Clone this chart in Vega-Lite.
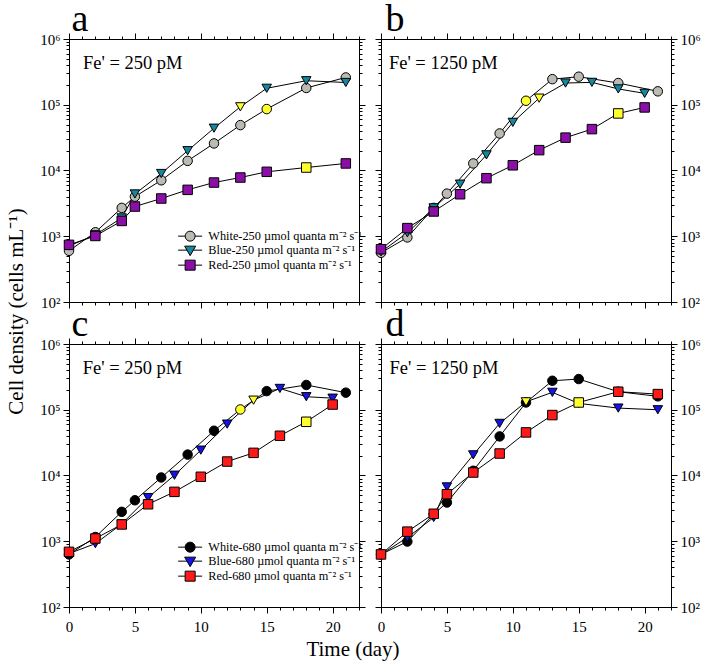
{
"$schema": "https://vega.github.io/schema/vega-lite/v6.json",
"padding": {"left": 5, "right": 0, "top": -1, "bottom": 2},
"config": {"view": {"stroke": "black", "strokeWidth": 1}, "font": "Liberation Serif", "axis": {"grid": false, "domainColor": "black", "tickColor": "black", "labelColor": "black", "labelFont": "Liberation Serif", "labelFontSize": 15, "labelOverlap": false, "labelBound": false, "labelFlush": false, "titleFont": "Liberation Serif", "titleColor": "black"}},
"title": {"text": "Time (day)", "orient": "bottom", "anchor": "middle", "fontSize": 21, "font": "Liberation Serif", "fontWeight": "normal", "color": "black", "offset": 4},
"datasets": {
"growth": [
{"panel":"a","series":"White","day":0,"cells":600},{"panel":"a","series":"White","day":2,"cells":1150},{"panel":"a","series":"White","day":4,"cells":2700},{"panel":"a","series":"White","day":5,"cells":4000},{"panel":"a","series":"White","day":7,"cells":7100},{"panel":"a","series":"White","day":9,"cells":14000},{"panel":"a","series":"White","day":11,"cells":25800},{"panel":"a","series":"White","day":13,"cells":49000},{"panel":"a","series":"White","day":15,"cells":86000,"hl":true},{"panel":"a","series":"White","day":18,"cells":180000},{"panel":"a","series":"White","day":21,"cells":260000},
{"panel":"a","series":"Blue","day":0,"cells":710},{"panel":"a","series":"Blue","day":2,"cells":1050},{"panel":"a","series":"Blue","day":4,"cells":1900},{"panel":"a","series":"Blue","day":5,"cells":4400},{"panel":"a","series":"Blue","day":7,"cells":9000},{"panel":"a","series":"Blue","day":9,"cells":20000},{"panel":"a","series":"Blue","day":11,"cells":44000},{"panel":"a","series":"Blue","day":13,"cells":93000,"hl":true},{"panel":"a","series":"Blue","day":15,"cells":178000},{"panel":"a","series":"Blue","day":18,"cells":232000},{"panel":"a","series":"Blue","day":21,"cells":218000},
{"panel":"a","series":"Red","day":0,"cells":740},{"panel":"a","series":"Red","day":2,"cells":1010},{"panel":"a","series":"Red","day":4,"cells":1710},{"panel":"a","series":"Red","day":5,"cells":2830},{"panel":"a","series":"Red","day":7,"cells":3750},{"panel":"a","series":"Red","day":9,"cells":5080},{"panel":"a","series":"Red","day":11,"cells":6560},{"panel":"a","series":"Red","day":13,"cells":7820},{"panel":"a","series":"Red","day":15,"cells":9550},{"panel":"a","series":"Red","day":18,"cells":11100,"hl":true},{"panel":"a","series":"Red","day":21,"cells":12800},
{"panel":"b","series":"White","day":0,"cells":560},{"panel":"b","series":"White","day":2,"cells":960},{"panel":"b","series":"White","day":4,"cells":2700},{"panel":"b","series":"White","day":5,"cells":4450},{"panel":"b","series":"White","day":7,"cells":12800},{"panel":"b","series":"White","day":9,"cells":36600},{"panel":"b","series":"White","day":11,"cells":115000,"hl":true},{"panel":"b","series":"White","day":13,"cells":245000},{"panel":"b","series":"White","day":15,"cells":267000},{"panel":"b","series":"White","day":18,"cells":214000},{"panel":"b","series":"White","day":21,"cells":160000},
{"panel":"b","series":"Blue","day":0,"cells":580},{"panel":"b","series":"Blue","day":2,"cells":1130},{"panel":"b","series":"Blue","day":4,"cells":2700},{"panel":"b","series":"Blue","day":6,"cells":6200},{"panel":"b","series":"Blue","day":8,"cells":17300},{"panel":"b","series":"Blue","day":10,"cells":54000},{"panel":"b","series":"Blue","day":12,"cells":126000,"hl":true},{"panel":"b","series":"Blue","day":14,"cells":214000},{"panel":"b","series":"Blue","day":16,"cells":219000},{"panel":"b","series":"Blue","day":18,"cells":174000},{"panel":"b","series":"Blue","day":20,"cells":149000},
{"panel":"b","series":"Red","day":0,"cells":635},{"panel":"b","series":"Red","day":2,"cells":1330},{"panel":"b","series":"Red","day":4,"cells":2380},{"panel":"b","series":"Red","day":6,"cells":4350},{"panel":"b","series":"Red","day":8,"cells":7640},{"panel":"b","series":"Red","day":10,"cells":12000},{"panel":"b","series":"Red","day":12,"cells":20400},{"panel":"b","series":"Red","day":14,"cells":31600},{"panel":"b","series":"Red","day":16,"cells":42600},{"panel":"b","series":"Red","day":18,"cells":73800,"hl":true},{"panel":"b","series":"Red","day":20,"cells":91000},
{"panel":"c","series":"White","day":0,"cells":630},{"panel":"c","series":"White","day":2,"cells":1160},{"panel":"c","series":"White","day":4,"cells":2800},{"panel":"c","series":"White","day":5,"cells":4200},{"panel":"c","series":"White","day":7,"cells":9330},{"panel":"c","series":"White","day":9,"cells":20800},{"panel":"c","series":"White","day":11,"cells":47900},{"panel":"c","series":"White","day":13,"cells":101000,"hl":true},{"panel":"c","series":"White","day":15,"cells":192000},{"panel":"c","series":"White","day":18,"cells":238000},{"panel":"c","series":"White","day":21,"cells":182000},
{"panel":"c","series":"Blue","day":0,"cells":650},{"panel":"c","series":"Blue","day":2,"cells":920},{"panel":"c","series":"Blue","day":4,"cells":1830},{"panel":"c","series":"Blue","day":6,"cells":4620},{"panel":"c","series":"Blue","day":8,"cells":10100},{"panel":"c","series":"Blue","day":10,"cells":24300},{"panel":"c","series":"Blue","day":12,"cells":60500},{"panel":"c","series":"Blue","day":14,"cells":140000,"hl":true},{"panel":"c","series":"Blue","day":16,"cells":211000},{"panel":"c","series":"Blue","day":18,"cells":158000},{"panel":"c","series":"Blue","day":20,"cells":150000},
{"panel":"c","series":"Red","day":0,"cells":690},{"panel":"c","series":"Red","day":2,"cells":1100},{"panel":"c","series":"Red","day":4,"cells":1800},{"panel":"c","series":"Red","day":6,"cells":3650},{"panel":"c","series":"Red","day":8,"cells":5640},{"panel":"c","series":"Red","day":10,"cells":9560},{"panel":"c","series":"Red","day":12,"cells":16300},{"panel":"c","series":"Red","day":14,"cells":22100},{"panel":"c","series":"Red","day":16,"cells":40200},{"panel":"c","series":"Red","day":18,"cells":65600,"hl":true},{"panel":"c","series":"Red","day":20,"cells":120000},
{"panel":"d","series":"White","day":0,"cells":630},{"panel":"d","series":"White","day":2,"cells":990},{"panel":"d","series":"White","day":4,"cells":2570},{"panel":"d","series":"White","day":5,"cells":3880},{"panel":"d","series":"White","day":7,"cells":11800},{"panel":"d","series":"White","day":9,"cells":39300},{"panel":"d","series":"White","day":11,"cells":129000},{"panel":"d","series":"White","day":13,"cells":276000},{"panel":"d","series":"White","day":15,"cells":293000},{"panel":"d","series":"White","day":18,"cells":188000},{"panel":"d","series":"White","day":21,"cells":160000},
{"panel":"d","series":"Blue","day":0,"cells":630},{"panel":"d","series":"Blue","day":2,"cells":1140},{"panel":"d","series":"Blue","day":4,"cells":2300},{"panel":"d","series":"Blue","day":5,"cells":6700},{"panel":"d","series":"Blue","day":7,"cells":20600},{"panel":"d","series":"Blue","day":9,"cells":62000},{"panel":"d","series":"Blue","day":11,"cells":132000,"hl":true},{"panel":"d","series":"Blue","day":13,"cells":184000},{"panel":"d","series":"Blue","day":15,"cells":125000},{"panel":"d","series":"Blue","day":18,"cells":106000},{"panel":"d","series":"Blue","day":21,"cells":100000},
{"panel":"d","series":"Red","day":0,"cells":630},{"panel":"d","series":"Red","day":2,"cells":1400},{"panel":"d","series":"Red","day":4,"cells":2620},{"panel":"d","series":"Red","day":5,"cells":5200},{"panel":"d","series":"Red","day":7,"cells":11100},{"panel":"d","series":"Red","day":9,"cells":21600},{"panel":"d","series":"Red","day":11,"cells":45200},{"panel":"d","series":"Red","day":13,"cells":83000},{"panel":"d","series":"Red","day":15,"cells":129000,"hl":true},{"panel":"d","series":"Red","day":18,"cells":188000},{"panel":"d","series":"Red","day":21,"cells":173000}
],
"notes": [{"panel":"a","label":"Fe' = 250 pM"},{"panel":"b","label":"Fe' = 1250 pM"},{"panel":"c","label":"Fe' = 250 pM"},{"panel":"d","label":"Fe' = 1250 pM"}]
},
"columns": 2,
"spacing": {"row": 42, "column": 22},
"bounds": "flush",
"resolve": {"scale": {"x": "independent", "y": "independent", "fill": "independent", "shape": "independent"}, "legend": {"fill": "independent", "shape": "independent"}},
"concat": [
{"width": 290, "height": 263,
 "layer": [
  {"data": {"name": "growth"}, "transform": [{"filter": "datum.panel === 'a'"}],
   "mark": {"type": "line", "color": "black", "strokeWidth": 1},
   "encoding": {
    "x": {"field": "day", "type": "quantitative", "scale": {"domain": [0, 22], "nice": false, "zero": false}, "axis": {"orient": "bottom", "values": [0,1,2,3,4,5,6,7,8,9,10,11,12,13,14,15,16,17,18,19,20,21,22], "labels": false, "title": null, "tickSize": {"condition": {"test": "datum.value % 5 === 0", "value": 6}, "value": 3}}},
    "y": {"field": "cells", "type": "quantitative", "scale": {"type": "log", "domain": [100, 1000000], "nice": false}, "axis": {"orient": "left", "values": [100,200,300,400,500,600,700,800,900,1000,2000,3000,4000,5000,6000,7000,8000,9000,10000,20000,30000,40000,50000,60000,70000,80000,90000,100000,200000,300000,400000,500000,600000,700000,800000,900000,1000000], "labelExpr": "abs(log(datum.value)/LN10 - round(log(datum.value)/LN10)) < 0.001 ? '10' + ['⁰','¹','²','³','⁴','⁵','⁶'][round(log(datum.value)/LN10)] : ''", "tickSize": {"condition": {"test": "abs(log(datum.value)/LN10 - round(log(datum.value)/LN10)) < 0.001", "value": 6}, "value": 3}, "labelPadding": 3, "title": "Cell density (cells mL⁻¹)", "titleFontSize": 21, "titleFontWeight": "normal", "titleY": 272, "titlePadding": 13}},
    "detail": {"field": "series"}
   }},
  {"data": {"name": "growth"}, "transform": [{"filter": "datum.panel === 'a'"}],
   "mark": {"type": "point", "filled": true, "stroke": "black", "strokeWidth": 1, "size": 90, "opacity": 1},
   "encoding": {
    "x": {"field": "day", "type": "quantitative", "axis": {"orient": "top", "values": [0,1,2,3,4,5,6,7,8,9,10,11,12,13,14,15,16,17,18,19,20,21,22], "labels": false, "title": "a", "titleFontSize": 38, "titleFontWeight": "normal", "titleAlign": "left", "titleAnchor": "start", "titleBaseline": "alphabetic", "titleX": 2, "titleY": -9, "tickSize": {"condition": {"test": "datum.value % 5 === 0", "value": 6}, "value": 3}}},
    "y": {"field": "cells", "type": "quantitative", "axis": {"orient": "right", "values": [100,200,300,400,500,600,700,800,900,1000,2000,3000,4000,5000,6000,7000,8000,9000,10000,20000,30000,40000,50000,60000,70000,80000,90000,100000,200000,300000,400000,500000,600000,700000,800000,900000,1000000], "labels": false, "title": null, "tickSize": {"condition": {"test": "abs(log(datum.value)/LN10 - round(log(datum.value)/LN10)) < 0.001", "value": 6}, "value": 3}}},
    "shape": {"field": "series", "type": "nominal", "scale": {"domain": ["White", "Blue", "Red"], "range": ["circle", "triangle-down", "square"]}, "legend": null},
    "fill": {"condition": {"test": "datum.hl === true", "value": "#FFFF2E"}, "field": "series", "type": "nominal", "scale": {"domain": ["White", "Blue", "Red"], "range": ["#BBBBB3", "#17879E", "#8B0FA6"]}, "legend": null}
   }},
  {"data": {"name": "growth"}, "transform": [{"filter": "datum.panel === 'none'"}],
   "mark": {"type": "point", "filled": true, "stroke": "black", "strokeWidth": 1, "opacity": 1},
   "encoding": {
    "stroke": {"value": "black"},
    "strokeWidth": {"value": 1},
    "shape": {"field": "series", "type": "nominal", "scale": {"domain": ["White", "Blue", "Red"], "range": ["M-2.4,0H-1M1,0H2.4M1,0A1,1,0,1,1,-1,0A1,1,0,1,1,1,0Z", "M-2.4,0H-0.6M0.6,0H2.4M-1.1,-0.8H1.1L0,1.1Z", "M-2.4,0H-1M1,0H2.4M-1,-1H1V1H-1Z"]},
      "legend": {"orient": "none", "legendX": 115, "legendY": 191, "title": null, "labelFont": "Liberation Serif", "labelFontSize": 12.3, "labelColor": "black", "labelExpr": "datum.label + '-250 µmol quanta m⁻² s⁻¹'", "symbolSize": 100, "symbolStrokeWidth": 1, "symbolOpacity": 1, "rowPadding": 0, "labelOffset": 12, "encode": {"symbols": {"update": {"stroke": {"value": "black"}, "strokeWidth": {"value": 1}}}}}},
    "fill": {"field": "series", "type": "nominal", "scale": {"domain": ["White", "Blue", "Red"], "range": ["#BBBBB3", "#17879E", "#8B0FA6"]},
      "legend": {"orient": "none", "legendX": 115, "legendY": 191, "title": null, "labelFont": "Liberation Serif", "labelFontSize": 12.3, "labelColor": "black", "labelExpr": "datum.label + '-250 µmol quanta m⁻² s⁻¹'", "symbolSize": 100, "symbolStrokeWidth": 1, "symbolOpacity": 1, "rowPadding": 0, "labelOffset": 12, "encode": {"symbols": {"update": {"stroke": {"value": "black"}, "strokeWidth": {"value": 1}}}}}}
   }},
  {"data": {"name": "notes"}, "transform": [{"filter": "datum.panel === 'a'"}],
   "mark": {"type": "text", "align": "left", "baseline": "alphabetic", "fontSize": 18.5, "font": "Liberation Serif", "color": "black"},
   "encoding": {"x": {"datum": 1.06, "type": "quantitative", "axis": null}, "y": {"datum": 350000, "type": "quantitative", "axis": null}, "text": {"field": "label"}}}
 ],
 "resolve": {"axis": {"x": "independent", "y": "independent"}, "scale": {"shape": "independent", "fill": "independent"}}
},
{"width": 290, "height": 263,
 "layer": [
  {"data": {"name": "growth"}, "transform": [{"filter": "datum.panel === 'b'"}],
   "mark": {"type": "line", "color": "black", "strokeWidth": 1},
   "encoding": {
    "x": {"field": "day", "type": "quantitative", "scale": {"domain": [0, 22], "nice": false, "zero": false}, "axis": {"orient": "bottom", "values": [0,1,2,3,4,5,6,7,8,9,10,11,12,13,14,15,16,17,18,19,20,21,22], "labels": false, "title": null, "tickSize": {"condition": {"test": "datum.value % 5 === 0", "value": 6}, "value": 3}}},
    "y": {"field": "cells", "type": "quantitative", "scale": {"type": "log", "domain": [100, 1000000], "nice": false}, "axis": {"orient": "left", "values": [100,200,300,400,500,600,700,800,900,1000,2000,3000,4000,5000,6000,7000,8000,9000,10000,20000,30000,40000,50000,60000,70000,80000,90000,100000,200000,300000,400000,500000,600000,700000,800000,900000,1000000], "labels": false, "title": null, "tickSize": {"condition": {"test": "abs(log(datum.value)/LN10 - round(log(datum.value)/LN10)) < 0.001", "value": 6}, "value": 3}}},
    "detail": {"field": "series"}
   }},
  {"data": {"name": "growth"}, "transform": [{"filter": "datum.panel === 'b'"}],
   "mark": {"type": "point", "filled": true, "stroke": "black", "strokeWidth": 1, "size": 90, "opacity": 1},
   "encoding": {
    "x": {"field": "day", "type": "quantitative", "axis": {"orient": "top", "values": [0,1,2,3,4,5,6,7,8,9,10,11,12,13,14,15,16,17,18,19,20,21,22], "labels": false, "title": "b", "titleFontSize": 38, "titleFontWeight": "normal", "titleAlign": "left", "titleAnchor": "start", "titleBaseline": "alphabetic", "titleX": 4, "titleY": -9, "tickSize": {"condition": {"test": "datum.value % 5 === 0", "value": 6}, "value": 3}}},
    "y": {"field": "cells", "type": "quantitative", "axis": {"orient": "right", "values": [100,200,300,400,500,600,700,800,900,1000,2000,3000,4000,5000,6000,7000,8000,9000,10000,20000,30000,40000,50000,60000,70000,80000,90000,100000,200000,300000,400000,500000,600000,700000,800000,900000,1000000], "labelExpr": "abs(log(datum.value)/LN10 - round(log(datum.value)/LN10)) < 0.001 ? '10' + ['⁰','¹','²','³','⁴','⁵','⁶'][round(log(datum.value)/LN10)] : ''", "labelPadding": 3, "title": null, "tickSize": {"condition": {"test": "abs(log(datum.value)/LN10 - round(log(datum.value)/LN10)) < 0.001", "value": 6}, "value": 3}}},
    "shape": {"field": "series", "type": "nominal", "scale": {"domain": ["White", "Blue", "Red"], "range": ["circle", "triangle-down", "square"]}, "legend": null},
    "fill": {"condition": {"test": "datum.hl === true", "value": "#FFFF2E"}, "field": "series", "type": "nominal", "scale": {"domain": ["White", "Blue", "Red"], "range": ["#BBBBB3", "#17879E", "#8B0FA6"]}, "legend": null}
   }},
  {"data": {"name": "notes"}, "transform": [{"filter": "datum.panel === 'b'"}],
   "mark": {"type": "text", "align": "left", "baseline": "alphabetic", "fontSize": 18.5, "font": "Liberation Serif", "color": "black"},
   "encoding": {"x": {"datum": 0.6, "type": "quantitative", "axis": null}, "y": {"datum": 352000, "type": "quantitative", "axis": null}, "text": {"field": "label"}}}
 ],
 "resolve": {"axis": {"x": "independent", "y": "independent"}}
},
{"width": 290, "height": 263,
 "layer": [
  {"data": {"name": "growth"}, "transform": [{"filter": "datum.panel === 'c'"}],
   "mark": {"type": "line", "color": "black", "strokeWidth": 1},
   "encoding": {
    "x": {"field": "day", "type": "quantitative", "scale": {"domain": [0, 22], "nice": false, "zero": false}, "axis": {"orient": "bottom", "values": [0,1,2,3,4,5,6,7,8,9,10,11,12,13,14,15,16,17,18,19,20,21,22], "labelExpr": "datum.value % 5 === 0 ? datum.label : ''", "labelPadding": 6, "title": null, "tickSize": {"condition": {"test": "datum.value % 5 === 0", "value": 6}, "value": 3}}},
    "y": {"field": "cells", "type": "quantitative", "scale": {"type": "log", "domain": [100, 1000000], "nice": false}, "axis": {"orient": "left", "values": [100,200,300,400,500,600,700,800,900,1000,2000,3000,4000,5000,6000,7000,8000,9000,10000,20000,30000,40000,50000,60000,70000,80000,90000,100000,200000,300000,400000,500000,600000,700000,800000,900000,1000000], "labelExpr": "abs(log(datum.value)/LN10 - round(log(datum.value)/LN10)) < 0.001 ? '10' + ['⁰','¹','²','³','⁴','⁵','⁶'][round(log(datum.value)/LN10)] : ''", "tickSize": {"condition": {"test": "abs(log(datum.value)/LN10 - round(log(datum.value)/LN10)) < 0.001", "value": 6}, "value": 3}, "labelPadding": 3, "title": null}},
    "detail": {"field": "series"}
   }},
  {"data": {"name": "growth"}, "transform": [{"filter": "datum.panel === 'c'"}],
   "mark": {"type": "point", "filled": true, "stroke": "black", "strokeWidth": 1, "size": 90, "opacity": 1},
   "encoding": {
    "x": {"field": "day", "type": "quantitative", "axis": {"orient": "top", "values": [0,1,2,3,4,5,6,7,8,9,10,11,12,13,14,15,16,17,18,19,20,21,22], "labels": false, "title": "c", "titleFontSize": 38, "titleFontWeight": "normal", "titleAlign": "left", "titleAnchor": "start", "titleBaseline": "alphabetic", "titleX": 2, "titleY": -9, "tickSize": {"condition": {"test": "datum.value % 5 === 0", "value": 6}, "value": 3}}},
    "y": {"field": "cells", "type": "quantitative", "axis": {"orient": "right", "values": [100,200,300,400,500,600,700,800,900,1000,2000,3000,4000,5000,6000,7000,8000,9000,10000,20000,30000,40000,50000,60000,70000,80000,90000,100000,200000,300000,400000,500000,600000,700000,800000,900000,1000000], "labels": false, "title": null, "tickSize": {"condition": {"test": "abs(log(datum.value)/LN10 - round(log(datum.value)/LN10)) < 0.001", "value": 6}, "value": 3}}},
    "shape": {"field": "series", "type": "nominal", "scale": {"domain": ["White", "Blue", "Red"], "range": ["circle", "triangle-down", "square"]}, "legend": null},
    "fill": {"condition": {"test": "datum.hl === true", "value": "#FFFF2E"}, "field": "series", "type": "nominal", "scale": {"domain": ["White", "Blue", "Red"], "range": ["#000000", "#1414E6", "#FF1A1A"]}, "legend": null}
   }},
  {"data": {"name": "growth"}, "transform": [{"filter": "datum.panel === 'none'"}],
   "mark": {"type": "point", "filled": true, "stroke": "black", "strokeWidth": 1, "opacity": 1},
   "encoding": {
    "stroke": {"value": "black"},
    "strokeWidth": {"value": 1},
    "shape": {"field": "series", "type": "nominal", "scale": {"domain": ["White", "Blue", "Red"], "range": ["M-2.4,0H-1M1,0H2.4M1,0A1,1,0,1,1,-1,0A1,1,0,1,1,1,0Z", "M-2.4,0H-0.6M0.6,0H2.4M-1.1,-0.8H1.1L0,1.1Z", "M-2.4,0H-1M1,0H2.4M-1,-1H1V1H-1Z"]},
      "legend": {"orient": "none", "legendX": 115, "legendY": 197, "title": null, "labelFont": "Liberation Serif", "labelFontSize": 12.3, "labelColor": "black", "labelExpr": "datum.label + '-680 µmol quanta m⁻² s⁻¹'", "symbolSize": 100, "symbolStrokeWidth": 1, "symbolOpacity": 1, "rowPadding": 0, "labelOffset": 12, "encode": {"symbols": {"update": {"stroke": {"value": "black"}, "strokeWidth": {"value": 1}}}}}},
    "fill": {"field": "series", "type": "nominal", "scale": {"domain": ["White", "Blue", "Red"], "range": ["#000000", "#1414E6", "#FF1A1A"]},
      "legend": {"orient": "none", "legendX": 115, "legendY": 197, "title": null, "labelFont": "Liberation Serif", "labelFontSize": 12.3, "labelColor": "black", "labelExpr": "datum.label + '-680 µmol quanta m⁻² s⁻¹'", "symbolSize": 100, "symbolStrokeWidth": 1, "symbolOpacity": 1, "rowPadding": 0, "labelOffset": 12, "encode": {"symbols": {"update": {"stroke": {"value": "black"}, "strokeWidth": {"value": 1}}}}}}
   }},
  {"data": {"name": "notes"}, "transform": [{"filter": "datum.panel === 'c'"}],
   "mark": {"type": "text", "align": "left", "baseline": "alphabetic", "fontSize": 18.5, "font": "Liberation Serif", "color": "black"},
   "encoding": {"x": {"datum": 1.04, "type": "quantitative", "axis": null}, "y": {"datum": 352000, "type": "quantitative", "axis": null}, "text": {"field": "label"}}}
 ],
 "resolve": {"axis": {"x": "independent", "y": "independent"}, "scale": {"shape": "independent", "fill": "independent"}}
},
{"width": 290, "height": 263,
 "layer": [
  {"data": {"name": "growth"}, "transform": [{"filter": "datum.panel === 'd'"}],
   "mark": {"type": "line", "color": "black", "strokeWidth": 1},
   "encoding": {
    "x": {"field": "day", "type": "quantitative", "scale": {"domain": [0, 22], "nice": false, "zero": false}, "axis": {"orient": "bottom", "values": [0,1,2,3,4,5,6,7,8,9,10,11,12,13,14,15,16,17,18,19,20,21,22], "labelExpr": "datum.value % 5 === 0 ? datum.label : ''", "labelPadding": 6, "title": null, "tickSize": {"condition": {"test": "datum.value % 5 === 0", "value": 6}, "value": 3}}},
    "y": {"field": "cells", "type": "quantitative", "scale": {"type": "log", "domain": [100, 1000000], "nice": false}, "axis": {"orient": "left", "values": [100,200,300,400,500,600,700,800,900,1000,2000,3000,4000,5000,6000,7000,8000,9000,10000,20000,30000,40000,50000,60000,70000,80000,90000,100000,200000,300000,400000,500000,600000,700000,800000,900000,1000000], "labels": false, "title": null, "tickSize": {"condition": {"test": "abs(log(datum.value)/LN10 - round(log(datum.value)/LN10)) < 0.001", "value": 6}, "value": 3}}},
    "detail": {"field": "series"}
   }},
  {"data": {"name": "growth"}, "transform": [{"filter": "datum.panel === 'd'"}],
   "mark": {"type": "point", "filled": true, "stroke": "black", "strokeWidth": 1, "size": 90, "opacity": 1},
   "encoding": {
    "x": {"field": "day", "type": "quantitative", "axis": {"orient": "top", "values": [0,1,2,3,4,5,6,7,8,9,10,11,12,13,14,15,16,17,18,19,20,21,22], "labels": false, "title": "d", "titleFontSize": 38, "titleFontWeight": "normal", "titleAlign": "left", "titleAnchor": "start", "titleBaseline": "alphabetic", "titleX": 4, "titleY": -9, "tickSize": {"condition": {"test": "datum.value % 5 === 0", "value": 6}, "value": 3}}},
    "y": {"field": "cells", "type": "quantitative", "axis": {"orient": "right", "values": [100,200,300,400,500,600,700,800,900,1000,2000,3000,4000,5000,6000,7000,8000,9000,10000,20000,30000,40000,50000,60000,70000,80000,90000,100000,200000,300000,400000,500000,600000,700000,800000,900000,1000000], "labelExpr": "abs(log(datum.value)/LN10 - round(log(datum.value)/LN10)) < 0.001 ? '10' + ['⁰','¹','²','³','⁴','⁵','⁶'][round(log(datum.value)/LN10)] : ''", "labelPadding": 3, "title": null, "tickSize": {"condition": {"test": "abs(log(datum.value)/LN10 - round(log(datum.value)/LN10)) < 0.001", "value": 6}, "value": 3}}},
    "shape": {"field": "series", "type": "nominal", "scale": {"domain": ["White", "Blue", "Red"], "range": ["circle", "triangle-down", "square"]}, "legend": null},
    "fill": {"condition": {"test": "datum.hl === true", "value": "#FFFF2E"}, "field": "series", "type": "nominal", "scale": {"domain": ["White", "Blue", "Red"], "range": ["#000000", "#1414E6", "#FF1A1A"]}, "legend": null}
   }},
  {"data": {"name": "notes"}, "transform": [{"filter": "datum.panel === 'd'"}],
   "mark": {"type": "text", "align": "left", "baseline": "alphabetic", "fontSize": 18.5, "font": "Liberation Serif", "color": "black"},
   "encoding": {"x": {"datum": 0.65, "type": "quantitative", "axis": null}, "y": {"datum": 352000, "type": "quantitative", "axis": null}, "text": {"field": "label"}}}
 ],
 "resolve": {"axis": {"x": "independent", "y": "independent"}}
}
]
}
